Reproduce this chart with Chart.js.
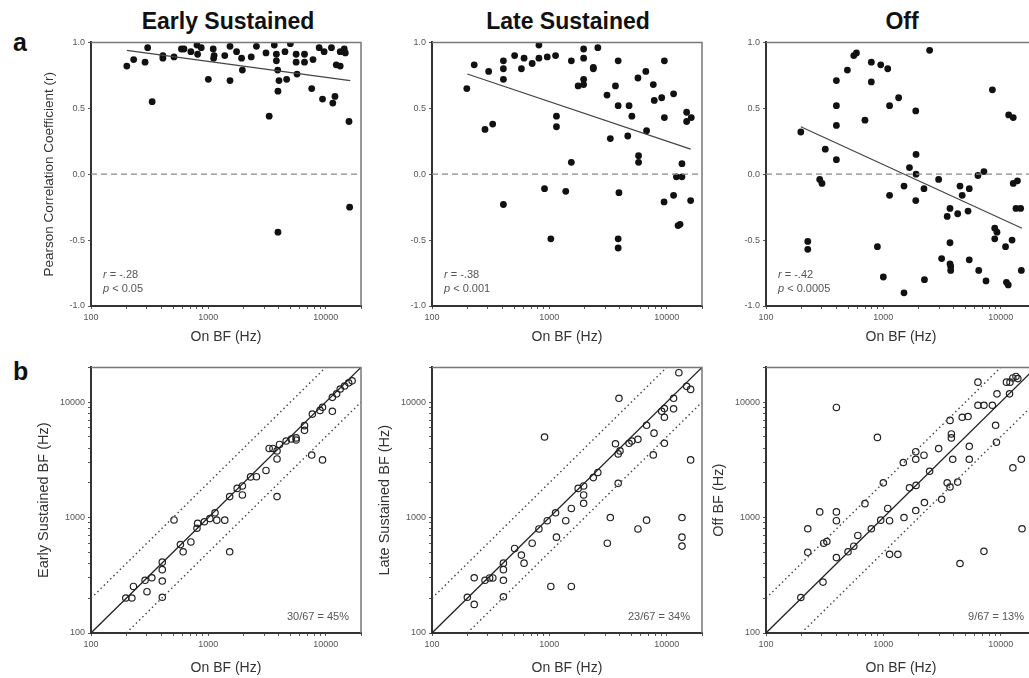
<!DOCTYPE html>
<html>
<head>
<meta charset="utf-8">
<script src="https://cdn.jsdelivr.net/npm/chart.js@4.4.0/dist/chart.umd.min.js"></script>
<style>
  body { margin: 0; width: 1029px; height: 678px; overflow: hidden; background: #fff; position: relative;
         font-family: "Liberation Sans", Arial, sans-serif; }
  canvas { position: absolute; }
  .title { position: absolute; width: 300px; text-align: center; font-weight: bold; font-size: 23px;
           line-height: 30px; color: #111; }
  .letter { position: absolute; font-weight: bold; font-size: 25px; color: #111; }
</style>
</head>
<body>
<div class="letter" style="left:13px;top:28px">a</div>
<div class="letter" style="left:13px;top:357px">b</div>
<div class="title" style="left:78px;top:6px">Early Sustained</div>
<div class="title" style="left:418px;top:6px">Late Sustained</div>
<div class="title" style="left:752px;top:6px">Off</div>

<canvas id="a1"></canvas>
<canvas id="a2"></canvas>
<canvas id="a3"></canvas>
<canvas id="b1"></canvas>
<canvas id="b2"></canvas>
<canvas id="b3"></canvas>

<script>
// tick labels
const majorTicks = [100, 1000, 10000];
const corrTicks = [-1, -0.5, 0, 0.5, 1];

// row a: On BF (Hz) vs Pearson r
const earlyOnBF = [202, 231, 289, 304, 332, 410, 410, 510, 590, 620, 710, 800, 810, 870, 1000, 1100, 1120, 1110,
  1380, 1530, 1530, 1740, 1920, 1950, 2320, 2570, 3100, 3300, 3650, 3800, 3800, 3900, 3920, 4000, 3920, 4500,
  4650, 5000, 5600, 5600, 5700, 6600, 6600, 7600, 7800, 8800, 9400, 9700, 11200, 11500, 12000, 12300, 13300,
  13300, 14400, 14700, 15800, 16000];
const earlyR = [0.82, 0.87, 0.85, 0.96, 0.55, 0.90, 0.88, 0.89, 0.95, 0.95, 0.93, 0.98, 0.91, 0.96, 0.72, 0.95, 0.90, 0.88,
  0.90, 0.97, 0.71, 0.93, 0.88, 0.79, 0.89, 0.97, 0.92, 0.44, 0.98, 0.91, 0.86, 0.79, 0.63, 0.71, -0.44, 0.93,
  0.72, 0.99, 0.91, 0.85, 0.76, 0.91, 0.85, 0.65, 0.87, 0.96, 0.57, 0.93, 0.96, 0.54, 0.59, 0.83, 0.82,
  0.93, 0.95, 0.92, 0.40, -0.25];

const lateOnBF = [198, 229, 283, 304, 329, 406, 406, 406, 406, 506, 578, 609, 714, 815, 815, 910, 960, 1030, 1130,
  1150, 1150, 1380, 1540, 1540, 1760, 1960, 1960, 1960, 1960, 2370, 2370, 2590, 3100, 3310, 3660, 3860, 3860,
  3920, 3860, 3860, 4660, 4780, 5050, 5690, 5760, 5760, 6640, 6740, 7690, 7840, 9070, 9560, 9560, 9500, 11450,
  11450, 12100, 13500, 12500, 13000, 13500, 14800, 14800, 16200, 16000];
const lateR = [0.65, 0.83, 0.34, 0.78, 0.38, 0.86, 0.80, 0.72, -0.23, 0.90, 0.80, 0.88, 0.84, 0.98, 0.88, -0.11, 0.89, -0.49, 0.90,
  0.44, 0.36, -0.13, 0.09, 0.86, 0.67, 0.95, 0.88, 0.72, 0.68, 0.81, 0.80, 0.96, 0.60, 0.27, 0.67, 0.86, 0.52,
  -0.14, -0.49, -0.56, 0.29, 0.52, 0.44, 0.73, 0.14, 0.09, 0.78, 0.33, 0.68, 0.56, 0.58, 0.86, 0.43, -0.21, 0.61,
  -0.16, -0.02, -0.02, -0.39, -0.38, 0.08, 0.47, 0.40, 0.43, -0.20];

const offOnBF = [198, 227, 227, 320, 287, 300, 398, 398, 398, 398, 494, 560, 590, 697, 790, 790, 890, 950, 1000,
  1090, 1130, 1130, 1350, 1500, 1500, 1670, 1890, 1900, 1900, 1890, 2220, 2240, 2480, 2960, 3140, 3500, 3700,
  3700, 3700, 3750, 3750, 4300, 4500, 4700, 5270, 5400, 5400, 6400, 6500, 7200, 7500, 8500, 8900, 9300, 8900,
  11000, 11200, 11600, 11700, 12800, 12500, 12800, 13900, 13500, 14800, 15000];
const offR = [0.32, -0.51, -0.57, 0.19, -0.04, -0.07, 0.71, 0.52, 0.37, 0.11, 0.79, 0.90, 0.92, 0.41, 0.85, 0.70, -0.55, 0.83, -0.78,
  0.80, 0.52, -0.16, 0.58, -0.90, -0.09, 0.05, 0.48, 0.15, 0.00, -0.20, -0.11, -0.80, 0.94, -0.04, -0.64, -0.32, -0.26,
  -0.52, -0.68, -0.70, -0.73, -0.30, -0.09, -0.16, -0.28, -0.11, -0.65, -0.01, -0.73, 0.02, -0.81, 0.64, -0.41, -0.44, -0.49,
  -0.55, -0.82, -0.84, 0.45, 0.43, -0.50, -0.07, -0.05, -0.26, -0.26, -0.73];

// regression lines, [On BF, r] at both ends
const earlyFit = [[202, 0.94], [16200, 0.71]];
const lateFit = [[200, 0.76], [16000, 0.19]];
const offFit = [[198, 0.36], [15200, -0.41]];

// row b: On BF vs response BF (Hz)
const esOnBF = [198, 223, 230, 289, 300, 330, 405, 405, 405, 405, 510, 578, 610, 710, 800, 810, 925, 1030, 1140,
  1180, 1380, 1520, 1520, 1760, 1950, 1950, 2290, 2570, 3100, 3300, 3550, 3850, 3850, 3850, 4040, 4600, 5100,
  5600, 5600, 6600, 6600, 7600, 7700, 8950, 9400, 9400, 11400, 11400, 12400, 13300, 14500, 15700, 16800];
const esBF = [201, 201, 253, 286, 228, 301, 282, 411, 354, 204, 954, 583, 505, 615, 808, 890, 920, 980, 1100,
  950, 950, 505, 1520, 1790, 1880, 1570, 2250, 2260, 2560, 3970, 3970, 3780, 3220, 1520, 4300, 4600, 4800,
  4900, 4700, 5700, 6260, 3480, 7880, 8480, 9030, 3160, 8330, 11000, 11800, 13000, 13800, 14700, 15300];

const lsOnBF = [200, 229, 229, 283, 310, 330, 406, 406, 406, 406, 506, 578, 609, 714, 815, 910, 960, 1030, 1130,
  1150, 1380, 1540, 1540, 1760, 1960, 1960, 1960, 2370, 2590, 3120, 3310, 3660, 3860, 4000, 3860, 3920, 4780,
  5050, 5690, 5690, 6740, 6740, 7800, 7690, 9070, 9560, 9560, 9560, 11450, 11450, 12700, 13500, 13500, 13500,
  14800, 16000, 16000];
const lsBF = [204, 301, 177, 286, 300, 300, 403, 354, 286, 206, 540, 473, 403, 600, 797, 4990, 940, 253, 1100,
  677, 940, 1200, 253, 1790, 1880, 1570, 1330, 2220, 2460, 600, 1000, 4360, 3560, 3780, 1980, 10800, 4400,
  4600, 4760, 797, 6300, 950, 5390, 3490, 8330, 4400, 7400, 8800, 10800, 8750, 18000, 1000, 677, 566,
  13700, 12900, 3160];

const offbOnBF = [198, 227, 227, 287, 306, 330, 310, 398, 398, 398, 398, 500, 560, 606, 697, 790, 890, 950, 1000,
  1090, 1130, 1130, 1330, 1480, 1500, 1670, 1890, 1890, 1900, 1890, 2220, 2240, 2480, 2960, 3140, 3500, 3700,
  3700, 3800, 3800, 3900, 4300, 4500, 4700, 5270, 5400, 5400, 6400, 6400, 7200, 8500, 7200, 9050, 9200, 9300,
  11900, 11200, 12000, 12700, 13500, 14000, 12700, 15000, 15200];
const offbBF = [203, 800, 500, 1120, 276, 620, 600, 940, 1120, 450, 9000, 505, 565, 700, 1320, 800, 4950, 950, 2000,
  1200, 940, 480, 480, 3000, 1000, 1810, 3720, 3200, 1900, 1150, 3470, 1350, 2520, 3960, 1440, 2000, 1840,
  6950, 5300, 4900, 3200, 2030, 400, 7400, 7500, 4140, 3200, 14900, 9400, 9400, 9400, 510, 6300, 4500, 11800,
  11800, 14900, 14900, 16200, 16700, 16000, 2700, 3200, 800];

const refLines = {
  identity: [[100, 100], [20000, 20000]],
  double: [[100, 200], [10000, 20000]],
  half: [[200, 100], [20000, 10000]]
};

const FONT = '"Liberation Sans", Arial, sans-serif';

function pts(xs, ys) { return xs.map((x, i) => ({ x, y: ys[i] })); }
function seg(pairs) { return pairs.map(p => ({ x: p[0], y: p[1] })); }

const logTicks = [];
for (const d of [100, 1000, 10000]) for (let k = 1; k <= 9; k++) if (d * k <= 20000) logTicks.push(d * k);
logTicks.push(20000);

// top and right edges of the plot frame
const framePlugin = {
  id: 'frame',
  afterDraw(chart) {
    const { ctx, chartArea: a } = chart;
    ctx.save();
    ctx.strokeStyle = '#777';
    ctx.lineWidth = 1.5;
    ctx.beginPath();
    ctx.moveTo(a.left, a.top);
    ctx.lineTo(a.right, a.top);
    ctx.lineTo(a.right, a.bottom);
    ctx.stroke();
    ctx.restore();
  }
};

// statistics text in a corner, italic symbols mixed with plain text
const notePlugin = {
  id: 'notes',
  afterDatasetsDraw(chart, args, opts) {
    if (!opts.lines) return;
    const { ctx, chartArea: a } = chart;
    ctx.save();
    ctx.fillStyle = '#555';
    ctx.textBaseline = 'middle';
    opts.lines.forEach((line, i) => {
      const fonts = line.map(p => (p[1] ? 'italic ' : '') + '11px ' + FONT);
      let w = 0;
      line.forEach((p, j) => { ctx.font = fonts[j]; w += ctx.measureText(p[0]).width; });
      let x = opts.align === 'right' ? a.right - opts.dx - w : a.left + opts.dx;
      const y = a.bottom - opts.dy[i];
      line.forEach((p, j) => {
        ctx.font = fonts[j];
        ctx.fillText(p[0], x, y);
        x += ctx.measureText(p[0]).width;
      });
    });
    ctx.restore();
  }
};

function logAxis(title, size) {
  return {
    type: 'logarithmic', min: 100, max: 20000,
    afterBuildTicks: s => { s.ticks = logTicks.map(v => ({ value: v })); },
    ticks: { autoSkip: false, maxRotation: 0, padding: 3, color: '#555', font: { family: FONT, size: 9 },
             callback: v => majorTicks.includes(v) ? String(v) : '' },
    grid: { drawOnChartArea: false, drawTicks: true, tickLength: 3, color: '#555' },
    border: { color: '#333', width: 2 },
    title: { display: !!title, text: title, color: '#333', padding: 0, font: { family: FONT, size: size } }
  };
}

function makePanel(id, L, T, H, row, datasets, yTitle, notes) {
  const YW = row === 'a' ? 50 : 56;
  const XH = row === 'a' ? 40 : 44;
  const W = YW + 270 + 8, HC = 4 + H + XH;
  const el = document.getElementById(id);
  el.width = W; el.height = HC;
  el.style.left = (L - YW) + 'px';
  el.style.top = (T - 4) + 'px';
  const yScale = row === 'a' ? {
    type: 'linear', min: -1, max: 1,
    afterBuildTicks: s => { s.ticks = corrTicks.map(v => ({ value: v })); },
    ticks: { padding: 3, color: '#555', font: { family: FONT, size: 9 }, callback: v => v.toFixed(1) },
    grid: { drawOnChartArea: false, tickLength: 3, color: '#555' },
    border: { color: '#333', width: 2 },
    title: { display: !!yTitle, text: yTitle, color: '#333', padding: 0, font: { family: FONT, size: 13.5 } }
  } : logAxis(yTitle, 14.5);
  yScale.afterFit = s => { s.width = YW; };
  const xScale = logAxis('On BF (Hz)', 14);
  xScale.afterFit = s => { s.height = XH; };
  new Chart(el, {
    type: 'scatter',
    data: { datasets },
    options: {
      responsive: false, animation: false, devicePixelRatio: 1,
      layout: { padding: { top: 4, right: 8, left: 0, bottom: 0 } },
      plugins: { legend: { display: false }, tooltip: { enabled: false }, notes },
      scales: { x: xScale, y: yScale }
    },
    plugins: [framePlugin, notePlugin]
  });
}

function corrSets(xs, ys, fit) {
  return [
    { data: seg([[100, 0], [20000, 0]]), showLine: true, pointRadius: 0, borderColor: '#888', borderWidth: 1.2, borderDash: [6, 4] },
    { data: seg(fit), showLine: true, pointRadius: 0, borderColor: '#444', borderWidth: 1.2 },
    { data: pts(xs, ys), pointRadius: 3.4, backgroundColor: '#111', borderWidth: 0 }
  ];
}

function bfSets(xs, ys) {
  return [
    { data: seg(refLines.identity), showLine: true, pointRadius: 0, borderColor: '#222', borderWidth: 1.3 },
    { data: seg(refLines.double), showLine: true, pointRadius: 0, borderColor: '#444', borderWidth: 1.4, borderDash: [1.5, 3] },
    { data: seg(refLines.half), showLine: true, pointRadius: 0, borderColor: '#444', borderWidth: 1.4, borderDash: [1.5, 3] },
    { data: pts(xs, ys), pointRadius: 3.2, backgroundColor: 'rgba(0,0,0,0)', borderColor: '#222', borderWidth: 1.2 }
  ];
}

const corrNote = (r, p) => ({ align: 'left', dx: 12, dy: [31, 17], lines: [[['r', true], [' = ' + r, false]], [['p', true], [' < ' + p, false]]] });
const pctNote = txt => ({ align: 'right', dx: 12, dy: [16], lines: [[[txt, false]]] });

makePanel('a1', 91, 38, 268, 'a', corrSets(earlyOnBF, earlyR, earlyFit), 'Pearson Correlation Coefficient (r)', corrNote('-.28', '0.05'));
makePanel('a2', 432, 38, 268, 'a', corrSets(lateOnBF, lateR, lateFit), '', corrNote('-.38', '0.001'));
makePanel('a3', 766, 38, 268, 'a', corrSets(offOnBF, offR, offFit), '', corrNote('-.42', '0.0005'));
makePanel('b1', 91, 363, 270, 'b', bfSets(esOnBF, esBF), 'Early Sustained BF (Hz)', pctNote('30/67 = 45%'));
makePanel('b2', 432, 363, 270, 'b', bfSets(lsOnBF, lsBF), 'Late Sustained BF (Hz)', pctNote('23/67 = 34%'));
makePanel('b3', 766, 363, 270, 'b', bfSets(offbOnBF, offbBF), 'Off BF (Hz)', pctNote('9/67 = 13%'));
</script>
</body>
</html>
